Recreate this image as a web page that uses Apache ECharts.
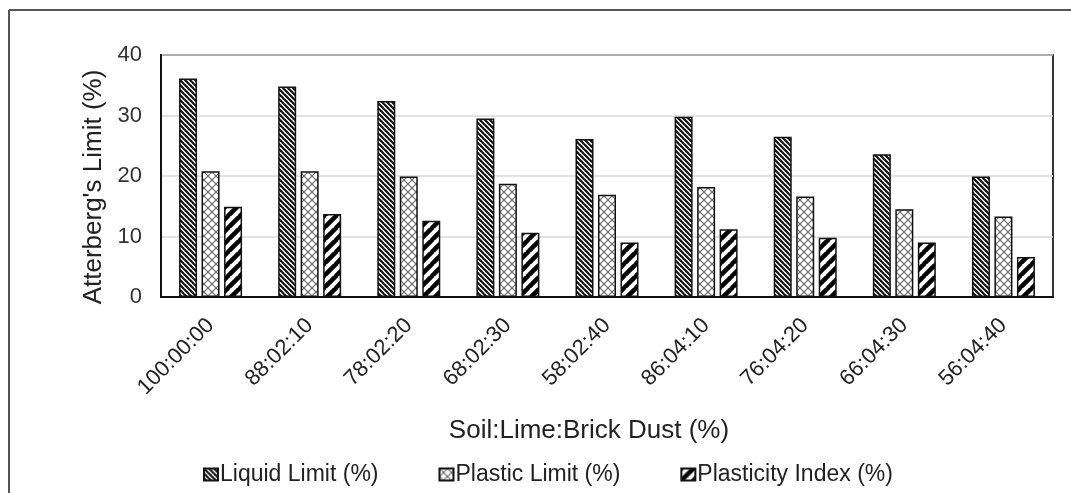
<!DOCTYPE html>
<html>
<head>
<meta charset="utf-8">
<script src="https://cdn.jsdelivr.net/npm/echarts@6/dist/echarts.min.js"></script>
<style>
html, body { margin: 0; padding: 0; background: #fff; }
#main { width: 1071px; height: 493px; }
</style>
</head>
<body>
<div id="main"></div>
<script>
// Soil:Lime:Brick Dust mixes
const categories = ['100:00:00', '88:02:10', '78:02:20', '68:02:30', '58:02:40',
    '86:04:10', '76:04:20', '66:04:30', '56:04:40'];
const liquidLimit = [36.1, 34.8, 32.4, 29.5, 26.1, 29.8, 26.5, 23.6, 19.9];
const plasticLimit = [20.8, 20.8, 19.9, 18.7, 16.9, 18.2, 16.6, 14.5, 13.3];
const plasticityIndex = [14.9, 13.7, 12.6, 10.6, 9.0, 11.2, 9.8, 9.0, 6.6];
const yTicks = [0, 10, 20, 30, 40];

const font = "'Liberation Sans', Arial, sans-serif";

// hatch fills drawn on small canvases
function hatch(size, draw) {
    const c = document.createElement('canvas');
    c.width = size;
    c.height = size;
    const ctx = c.getContext('2d');
    ctx.fillStyle = '#fff';
    ctx.fillRect(0, 0, size, size);
    draw(ctx, size);
    return { image: c, repeat: 'repeat' };
}

// dense "\" lines
const llFill = hatch(5, (ctx, s) => {
    ctx.strokeStyle = '#111';
    ctx.lineWidth = 2.2;
    for (let k = -1; k <= 1; k++) {
        ctx.beginPath();
        ctx.moveTo(k * s - 1, -1);
        ctx.lineTo(k * s + s + 1, s + 1);
        ctx.stroke();
    }
});
// light cross hatch
const plFill = hatch(8, (ctx, s) => {
    ctx.strokeStyle = '#666';
    ctx.lineWidth = 1.1;
    for (let k = -1; k <= 1; k++) {
        ctx.beginPath();
        ctx.moveTo(k * s - 1, -1);
        ctx.lineTo(k * s + s + 1, s + 1);
        ctx.stroke();
        ctx.beginPath();
        ctx.moveTo(k * s + s + 1, -1);
        ctx.lineTo(k * s - 1, s + 1);
        ctx.stroke();
    }
});
// wide "/" stripes
const piFill = hatch(12, (ctx, s) => {
    ctx.strokeStyle = '#000';
    ctx.lineWidth = 4.5;
    for (let k = 0; k <= 2; k++) {
        ctx.beginPath();
        ctx.moveTo(k * s + 1, -1);
        ctx.lineTo(k * s - s - 1, s + 1);
        ctx.stroke();
    }
});

function barSeries(name, data, fill) {
    return {
        name: name,
        type: 'bar',
        data: data,
        barWidth: 18,
        barGap: '25%',
        itemStyle: { color: fill, borderColor: '#111', borderWidth: 1.5 },
        emphasis: { disabled: true }
    };
}

const chart = echarts.init(document.getElementById('main'));
chart.setOption({
    animation: false,
    backgroundColor: '#fff',
    title: {
        text: 'Soil:Lime:Brick Dust (%)',
        left: 584,
        top: 413,
        textAlign: 'center',
        textStyle: { fontFamily: font, fontSize: 26, fontWeight: 'normal', color: '#222' }
    },
    grid: {
        left: 161, right: 18, top: 55, bottom: 196,
        show: true, borderColor: '#333', borderWidth: 2
    },
    legend: {
        left: 198,
        top: 458,
        itemWidth: 14,
        itemHeight: 12,
        itemGap: 60,
        icon: 'rect',
        textStyle: { fontFamily: font, fontSize: 23, color: '#222', padding: [0, 0, 0, -3] },
        data: ['Liquid Limit (%)', 'Plastic Limit (%)', 'Plasticity Index (%)']
    },
    xAxis: {
        type: 'category',
        data: categories,
        axisLine: { lineStyle: { color: '#111', width: 2 } },
        axisTick: { show: false },
        axisLabel: {
            interval: 0,
            rotate: 45,
            margin: 25,
            fontFamily: font,
            fontSize: 22,
            color: '#222'
        }
    },
    yAxis: {
        type: 'value',
        min: yTicks[0],
        max: yTicks[yTicks.length - 1],
        interval: 10,
        name: "Atterberg's Limit (%)",
        nameLocation: 'middle',
        nameGap: 51,
        nameTextStyle: { fontFamily: font, fontSize: 26, color: '#222', padding: [0, 22, 0, 0] },
        axisLine: { show: true, lineStyle: { color: '#111', width: 2 } },
        axisTick: { show: false },
        axisLabel: { margin: 19, fontFamily: font, fontSize: 22, color: '#333' },
        splitLine: { lineStyle: { color: '#d9d9d9', width: 1.5 } }
    },
    series: [
        barSeries('Liquid Limit (%)', liquidLimit, llFill),
        barSeries('Plastic Limit (%)', plasticLimit, plFill),
        barSeries('Plasticity Index (%)', plasticityIndex, piFill)
    ],
    graphic: [
        { type: 'line', shape: { x1: 9, y1: 10, x2: 1071, y2: 10 }, style: { stroke: '#555', lineWidth: 2 } },
        { type: 'line', shape: { x1: 9, y1: 10, x2: 9, y2: 493 }, style: { stroke: '#555', lineWidth: 2 } }
    ]
});
</script>
</body>
</html>
